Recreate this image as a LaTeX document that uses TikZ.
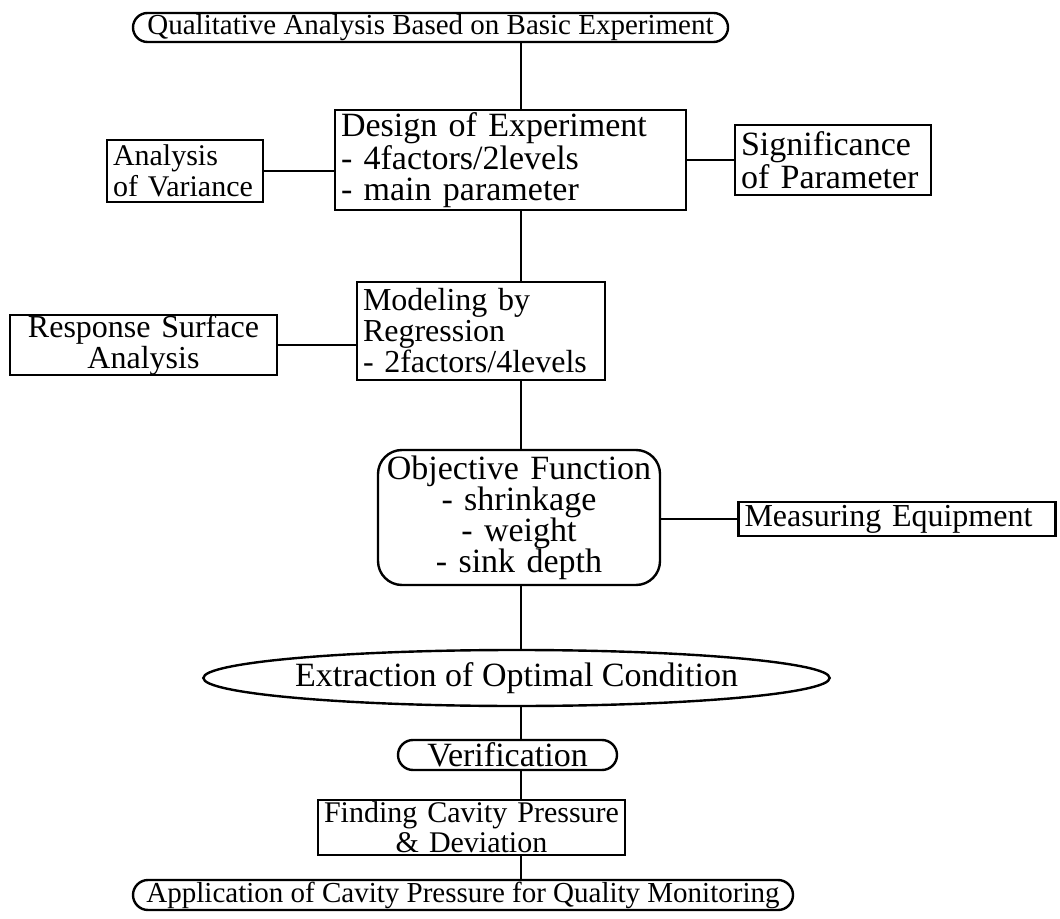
\documentclass[tikz,border=0pt]{standalone}
\usepackage{fontspec}
\setmainfont{Liberation Serif}
\usetikzlibrary{shapes.geometric, shapes.misc, positioning}
\hyphenpenalty=10000

\tikzset{
  base/.style={draw, line width=1.2pt, font=\fontsize{17}{15.5}\selectfont, inner sep=0pt},
  stepbox/.style={base, rectangle, inner xsep=3pt},
  pillbox/.style={base, rounded rectangle, inner ysep=0.5pt, font=\fontsize{14.5}{15}\selectfont},
  roundbox/.style={base, rounded corners=12pt, inner xsep=3pt},
  ovalbox/.style={base, ellipse},
  link/.style={line width=1.2pt}
}

\begin{document}
\begin{tikzpicture}[x=0.5pt, y=-0.5pt]
    \useasboundingbox (0,0) rectangle (1060,919);
    \coordinate (trunk) at (521,0);

    % main flow
    \node[pillbox, minimum width=297.5pt, minimum height=14.5pt] (qual) at (430.5,27.5) {Qualitative Analysis Based on Basic Experiment};
    \node[stepbox, text width=169.5pt, minimum height=50pt, align=left] (doe) at (510.5,160) {Design of Experiment\\- 4factors/2levels\\- main parameter};
    \node[stepbox, font=\fontsize{16}{15.5}\selectfont, text width=118pt, minimum height=49pt, align=left] (model) at (481,331) {Modeling by\\Regression\\- 2factors/4levels};
    \node[roundbox, text width=135pt, minimum height=67.5pt, align=center] (obj) at (519,517.5) {Objective Function\\- shrinkage\\- weight\\- sink depth};
    \node[ovalbox, minimum width=288.5pt, minimum height=28pt] (ext) at (516.5,678) {Extraction of Optimal Condition};
    \node[pillbox, font=\fontsize{17}{15}\selectfont, minimum width=109.5pt, minimum height=15pt] (verif) at (507.5,755) {Verification};
    \node[stepbox, font=\fontsize{15}{15}\selectfont, text width=147.5pt, minimum height=27.5pt, align=center] (find) at (471.5,827.5) {Finding Cavity Pressure\\\& Deviation};
    \node[pillbox, minimum width=330pt, minimum height=15pt] (app) at (463,895) {Application of Cavity Pressure for Quality Monitoring};

    % side boxes
    \node[stepbox, font=\fontsize{15}{15.5}\selectfont, text width=72pt, minimum height=31pt, align=left] (anova) at (185,171) {Analysis\\of Variance};
    \node[stepbox, text width=92pt, minimum height=35pt, align=left] (sig) at (833,160) {Significance\\of Parameter};
    \node[stepbox, font=\fontsize{16}{14}\selectfont, text width=127.5pt, minimum height=27pt, align=center] (rsa) at (143.5,345) {Response Surface\\Analysis};
    \node[stepbox, font=\fontsize{16}{15}\selectfont, text width=152.5pt, minimum height=17pt, align=left] (meas) at (897,519) {Measuring Equipment};

    % trunk
    \draw[link] (qual.south -| trunk) -- (doe.north -| trunk);
    \draw[link] (doe.south -| trunk) -- (model.north -| trunk);
    \draw[link] (model.south -| trunk) -- (obj.north -| trunk);
    \draw[link] (obj.south -| trunk) -- (ext.north -| trunk);
    \draw[link] (ext.south -| trunk) -- (verif.north -| trunk);
    \draw[link] (verif.south -| trunk) -- (find.north -| trunk);
    \draw[link] (find.south -| trunk) -- (app.north -| trunk);

    % branches
    \draw[link] (anova.east) -- (anova.east -| doe.west);
    \draw[link] (doe.east) -- (doe.east -| sig.west);
    \draw[link] (rsa.east) -- (rsa.east -| model.west);
    \draw[link] (obj.east |- meas.west) -- (meas.west);
\end{tikzpicture}
\end{document}
